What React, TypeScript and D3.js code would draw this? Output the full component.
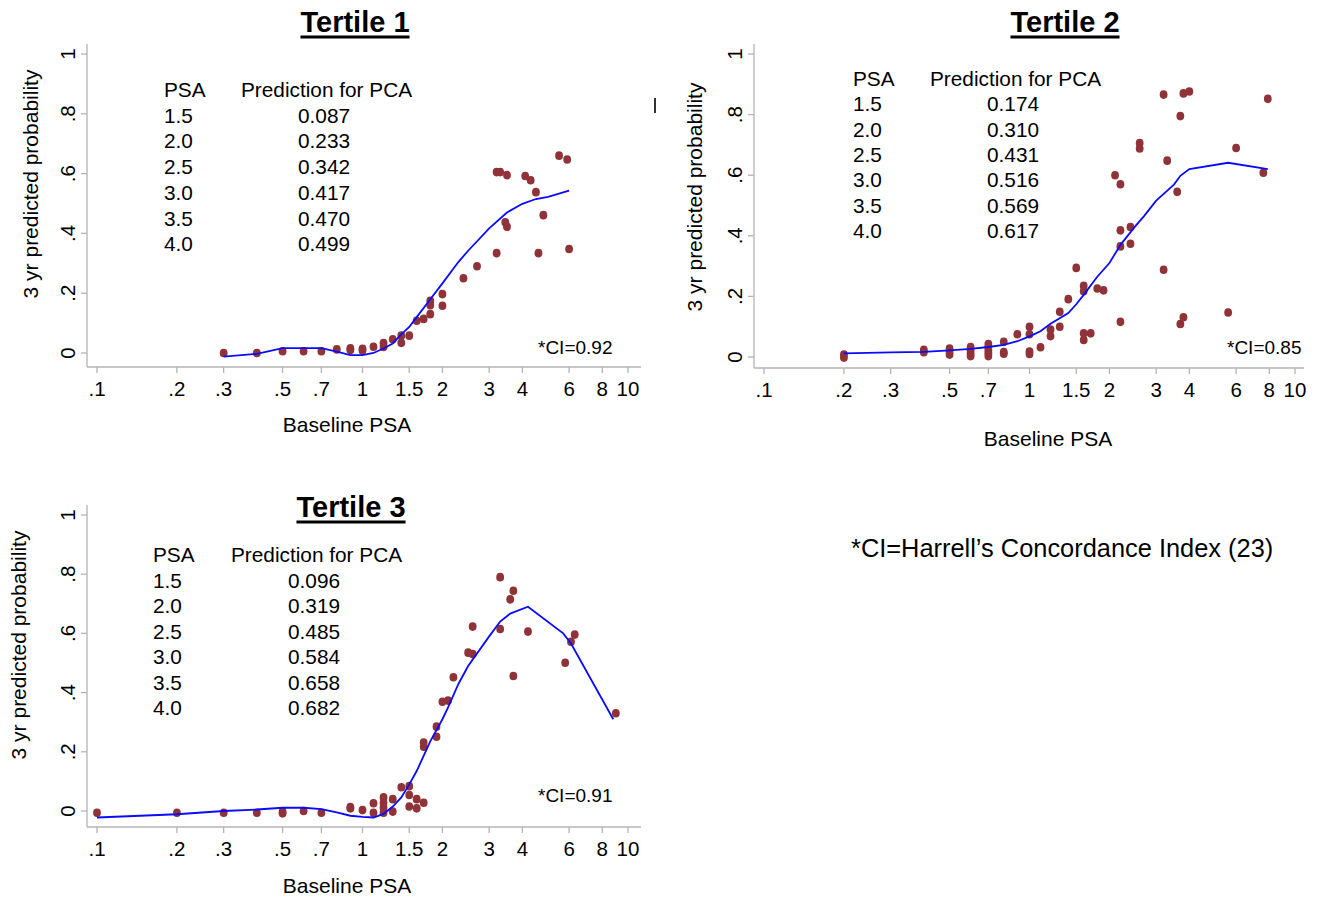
import React, { useEffect, useRef } from "react";
import * as d3 from "d3";

// axis ticks shared by all three panels
const xTicks = [0.1, 0.2, 0.3, 0.5, 0.7, 1, 1.5, 2, 3, 4, 6, 8, 10];
const xTickLabels = [".1", ".2", ".3", ".5", ".7", "1", "1.5", "2", "3", "4", "6", "8", "10"];
const yTicks = [0, 0.2, 0.4, 0.6, 0.8, 1];
const yTickLabels = ["0", ".2", ".4", ".6", ".8", "1"];

// inset table
const tablePSA = ["1.5", "2.0", "2.5", "3.0", "3.5", "4.0"];
const t1Pred = ["0.087", "0.233", "0.342", "0.417", "0.470", "0.499"];
const t2Pred = ["0.174", "0.310", "0.431", "0.516", "0.569", "0.617"];
const t3Pred = ["0.096", "0.319", "0.485", "0.584", "0.658", "0.682"];

// observed points [PSA, probability]
const t1Points: [number, number][] = [
  [0.3, 0.0], [0.4, 0.0], [0.5, 0.006], [0.6, 0.006], [0.7, 0.006], [0.8, 0.012],
  [0.9, 0.016], [0.9, 0.01], [1.0, 0.014], [1.0, 0.008], [1.1, 0.021], [1.2, 0.033],
  [1.2, 0.02], [1.3, 0.046], [1.4, 0.058], [1.4, 0.034], [1.5, 0.058], [1.6, 0.108],
  [1.7, 0.114], [1.8, 0.13], [1.8, 0.16], [1.8, 0.175], [2.0, 0.197], [2.0, 0.158],
  [2.4, 0.25], [2.7, 0.29], [3.2, 0.334], [3.2, 0.605], [3.3, 0.605], [3.5, 0.595],
  [3.45, 0.437], [3.5, 0.422], [4.1, 0.592], [4.3, 0.578], [4.5, 0.538], [4.6, 0.334],
  [4.8, 0.461], [5.5, 0.66], [5.9, 0.647], [6.0, 0.348],
];
const t2Points: [number, number][] = [
  [0.2, 0.008], [0.2, -0.002], [0.4, 0.024], [0.4, 0.016], [0.5, 0.028], [0.5, 0.018],
  [0.5, 0.008], [0.6, 0.033], [0.6, 0.022], [0.6, 0.012], [0.6, 0.003], [0.7, 0.043],
  [0.7, 0.033], [0.7, 0.022], [0.7, 0.012], [0.7, 0.003], [0.8, 0.05], [0.8, 0.016],
  [0.8, 0.011], [0.9, 0.075], [1.0, 0.1], [1.0, 0.075], [1.0, 0.018], [1.0, 0.01],
  [1.1, 0.032], [1.2, 0.091], [1.2, 0.069], [1.3, 0.149], [1.3, 0.1], [1.4, 0.191],
  [1.5, 0.294], [1.6, 0.235], [1.6, 0.217], [1.6, 0.078], [1.6, 0.056], [1.7, 0.078],
  [1.8, 0.226], [1.9, 0.22], [2.1, 0.6], [2.2, 0.57], [2.2, 0.418], [2.2, 0.365],
  [2.2, 0.116], [2.4, 0.429], [2.4, 0.374], [2.6, 0.706], [2.6, 0.688], [3.2, 0.866],
  [3.2, 0.288], [3.3, 0.648], [3.6, 0.545], [3.7, 0.795], [3.8, 0.87], [4.0, 0.876],
  [3.7, 0.109], [3.8, 0.131], [5.6, 0.147], [6.0, 0.69], [7.6, 0.608], [7.9, 0.852],
];
const t3Points: [number, number][] = [
  [0.1, -0.006], [0.2, -0.006], [0.3, -0.006], [0.4, -0.006], [0.5, -0.002], [0.5, -0.008],
  [0.6, 0.0], [0.7, -0.006], [0.9, 0.009], [0.9, 0.013], [1.0, 0.003], [1.1, 0.026],
  [1.1, -0.006], [1.2, 0.046], [1.2, 0.028], [1.2, 0.012], [1.2, -0.006], [1.3, 0.04],
  [1.3, -0.002], [1.4, 0.08], [1.5, 0.084], [1.5, 0.054], [1.5, 0.015], [1.6, 0.04],
  [1.6, 0.009], [1.7, 0.028], [1.7, 0.231], [1.7, 0.217], [1.9, 0.285], [1.9, 0.251],
  [2.0, 0.369], [2.1, 0.373], [2.2, 0.452], [2.5, 0.535], [2.6, 0.53], [2.6, 0.623],
  [3.3, 0.79], [3.3, 0.615], [3.6, 0.715], [3.7, 0.744], [3.7, 0.456], [4.2, 0.606],
  [5.8, 0.501], [6.1, 0.572], [6.3, 0.596], [9.0, 0.33],
];

// fitted curves
const t1Line: [number, number][] = [
  [0.3, -0.012], [0.4, -0.003], [0.5, 0.016], [0.6, 0.016], [0.7, 0.016], [0.8, 0.005],
  [0.9, -0.007], [1.0, -0.007], [1.1, 0.0], [1.2, 0.015], [1.3, 0.032], [1.4, 0.062],
  [1.5, 0.087], [1.6, 0.12], [1.8, 0.18], [2.0, 0.233], [2.3, 0.305], [2.5, 0.342],
  [3.0, 0.417], [3.5, 0.47], [4.0, 0.499], [4.5, 0.515], [5.0, 0.522], [6.0, 0.543],
];
const t2Line: [number, number][] = [
  [0.2, 0.012], [0.3, 0.015], [0.4, 0.017], [0.5, 0.022], [0.6, 0.027], [0.7, 0.033],
  [0.8, 0.04], [0.9, 0.052], [1.0, 0.068], [1.1, 0.085], [1.2, 0.11], [1.4, 0.145],
  [1.5, 0.174], [1.6, 0.205], [1.8, 0.265], [2.0, 0.31], [2.2, 0.37], [2.5, 0.431],
  [2.7, 0.465], [3.0, 0.516], [3.5, 0.569], [3.7, 0.598], [4.0, 0.62], [5.6, 0.641],
  [7.9, 0.62],
];
const t3Line: [number, number][] = [
  [0.1, -0.022], [0.2, -0.011], [0.3, 0.0], [0.4, 0.005], [0.5, 0.011], [0.6, 0.011],
  [0.7, 0.006], [0.8, -0.005], [0.9, -0.016], [1.0, -0.02], [1.1, -0.022], [1.2, -0.01],
  [1.3, 0.015], [1.4, 0.046], [1.5, 0.09], [1.6, 0.135], [1.8, 0.235], [2.0, 0.31],
  [2.1, 0.35], [2.3, 0.43], [2.5, 0.49], [3.0, 0.59], [3.3, 0.64], [3.6, 0.667],
  [4.2, 0.69], [5.7, 0.6], [6.1, 0.566], [8.8, 0.31],
];

const FONT = "'Liberation Sans', Arial, sans-serif";
const DOT = "#8f3338";
const AXIS = "#b4b4b4";

const panels = [
  {
    title: "Tertile 1", points: t1Points, line: t1Line, pred: t1Pred, ci: "*CI=0.92",
    x0: 97, x1: 628, y0: 353, y1: 54, axisX: 87, axisTop: 44, axisY: 367, axisRight: 641,
    titleX: 355, titleY: 32, yTitleX: 38, yTitleY: 184, xTitleX: 347, xTitleY: 432,
    tickY: 396, tableX: [164, 241, 298], tableY: 97, rowH: 25.7, ciX: 538, ciY: 354,
  },
  {
    title: "Tertile 2", points: t2Points, line: t2Line, pred: t2Pred, ci: "*CI=0.85",
    x0: 764, x1: 1295, y0: 357, y1: 54, axisX: 754, axisTop: 44, axisY: 368, axisRight: 1304,
    titleX: 1065, titleY: 32, yTitleX: 702, yTitleY: 197, xTitleX: 1048, xTitleY: 446,
    tickY: 397, tableX: [853, 930, 987], tableY: 86, rowH: 25.3, ciX: 1227, ciY: 354,
  },
  {
    title: "Tertile 3", points: t3Points, line: t3Line, pred: t3Pred, ci: "*CI=0.91",
    x0: 97, x1: 628, y0: 811, y1: 515, axisX: 87, axisTop: 505, axisY: 827, axisRight: 641,
    titleX: 351, titleY: 517, yTitleX: 26, yTitleY: 645, xTitleX: 347, xTitleY: 893,
    tickY: 856, tableX: [153, 231, 288], tableY: 562, rowH: 25.5, ciX: 538, ciY: 802,
  },
];

const App = () => {
  const ref = useRef<SVGSVGElement>(null);

  useEffect(() => {
    const svg = d3.select(ref.current);
    svg.selectAll("*").remove();

    panels.forEach((p) => {
      const g = svg.append("g");
      const x = d3.scaleLog().domain([0.1, 10]).range([p.x0, p.x1]);
      const y = d3.scaleLinear().domain([0, 1]).range([p.y0, p.y1]);

      // axes lines
      g.append("line")
        .attr("x1", p.axisX).attr("x2", p.axisX)
        .attr("y1", p.axisTop).attr("y2", p.axisY)
        .attr("stroke", AXIS).attr("stroke-width", 1.3);
      g.append("line")
        .attr("x1", p.axisX).attr("x2", p.axisRight)
        .attr("y1", p.axisY).attr("y2", p.axisY)
        .attr("stroke", AXIS).attr("stroke-width", 1.3);

      // x ticks
      const xt = g.selectAll(".xt").data(xTicks).join("g").attr("class", "xt");
      xt.append("line")
        .attr("x1", (d) => x(d)).attr("x2", (d) => x(d))
        .attr("y1", p.axisY).attr("y2", p.axisY + 6)
        .attr("stroke", AXIS).attr("stroke-width", 1.3);
      xt.append("text")
        .attr("x", (d) => x(d)).attr("y", p.tickY)
        .attr("text-anchor", "middle")
        .attr("font-size", 20.5)
        .text((d, i) => xTickLabels[i]);

      // y ticks
      const yt = g.selectAll(".yt").data(yTicks).join("g").attr("class", "yt");
      yt.append("line")
        .attr("x1", p.axisX - 6).attr("x2", p.axisX)
        .attr("y1", (d) => y(d)).attr("y2", (d) => y(d))
        .attr("stroke", AXIS).attr("stroke-width", 1.3);
      yt.append("text")
        .attr("transform", (d) => `translate(${p.axisX - 12},${y(d)}) rotate(-90)`)
        .attr("text-anchor", "middle")
        .attr("font-size", 20.5)
        .text((d, i) => yTickLabels[i]);

      // axis titles
      g.append("text")
        .attr("transform", `translate(${p.yTitleX},${p.yTitleY}) rotate(-90)`)
        .attr("text-anchor", "middle")
        .attr("font-size", 21)
        .text("3 yr predicted probability");
      g.append("text")
        .attr("x", p.xTitleX).attr("y", p.xTitleY)
        .attr("text-anchor", "middle")
        .attr("font-size", 21)
        .text("Baseline PSA");

      // title, underlined
      const title = g.append("text")
        .attr("x", p.titleX).attr("y", p.titleY)
        .attr("text-anchor", "middle")
        .attr("font-size", 29)
        .attr("font-weight", "bold")
        .text(p.title);
      const tw = (title.node() as SVGTextElement).getComputedTextLength();
      g.append("line")
        .attr("x1", p.titleX - tw / 2).attr("x2", p.titleX + tw / 2)
        .attr("y1", p.titleY + 5).attr("y2", p.titleY + 5)
        .attr("stroke", "#000").attr("stroke-width", 2.8);

      // inset table
      const tbl = g.append("g").attr("font-size", 20.8);
      tbl.append("text").attr("x", p.tableX[0]).attr("y", p.tableY).text("PSA");
      tbl.append("text").attr("x", p.tableX[1]).attr("y", p.tableY).text("Prediction for PCA");
      tablePSA.forEach((v, i) => {
        const ty = p.tableY + (i + 1) * p.rowH;
        tbl.append("text").attr("x", p.tableX[0]).attr("y", ty).text(v);
        tbl.append("text").attr("x", p.tableX[2]).attr("y", ty).text(p.pred[i]);
      });

      g.append("text")
        .attr("x", p.ciX).attr("y", p.ciY)
        .attr("font-size", 19)
        .text(p.ci);

      // points
      g.selectAll(".pt")
        .data(p.points)
        .join("ellipse")
        .attr("class", "pt")
        .attr("cx", (d) => x(d[0]))
        .attr("cy", (d) => y(d[1]))
        .attr("rx", 3.9)
        .attr("ry", 4.3)
        .attr("fill", DOT);

      // fitted line
      const lineGen = d3.line<[number, number]>()
        .x((d) => x(d[0]))
        .y((d) => y(d[1]));
      g.append("path")
        .attr("d", lineGen(p.line))
        .attr("fill", "none")
        .attr("stroke", "#0a0aff")
        .attr("stroke-width", 1.8);
    });

    // stray mark between panels
    svg.append("line")
      .attr("x1", 655).attr("x2", 655).attr("y1", 98).attr("y2", 113)
      .attr("stroke", "#333").attr("stroke-width", 2);

    svg.append("text")
      .attr("x", 851).attr("y", 557)
      .attr("font-size", 25.4)
      .text("*CI=Harrell\u2019s Concordance Index (23)");
  }, []);

  return (
    <svg
      ref={ref}
      width={1325}
      height={901}
      viewBox="0 0 1325 901"
      style={{ position: "absolute", left: 0, top: 0, background: "#fff", fontFamily: FONT }}
    />
  );
};

export default App;
